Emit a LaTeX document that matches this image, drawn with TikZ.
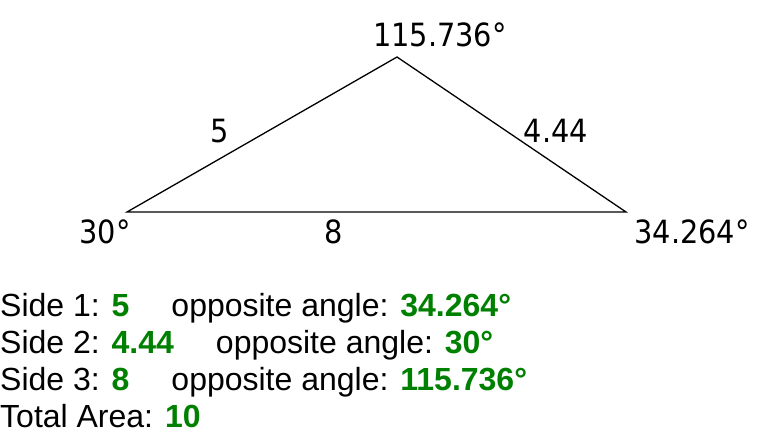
\documentclass[tikz,border=0pt]{standalone}
\usepackage{fontspec}
\setmainfont{Liberation Sans}
\newfontfamily\labelfont{DejaVu Sans Condensed}
\definecolor{valgreen}{RGB}{0,128,0}

\begin{document}
\begin{tikzpicture}[x=1pt,y=-1pt]
        \tikzstyle{corner}=[inner sep=0pt,font=\labelfont\fontsize{32}{32}\selectfont]
        \tikzstyle{info}=[anchor=base west,inner sep=0pt,font=\fontsize{32}{32}\selectfont]
        \tikzstyle{edge}=[draw,line width=1.3pt]
        \useasboundingbox (0,0) rectangle (759,434);
       \begin{scope}
         \coordinate (a) at (127,212);
         \coordinate (b) at (397,57);
         \coordinate (c) at (626,212);

         \path[edge] (a) -- (b) -- (c) -- cycle;

         \node [corner] (angb) at (440,35) {115.736°};
         \node [corner] (anga) at (105,232) {30°};
         \node [corner] (angc) at (692,232) {34.264°};
         \node [corner] (sidea) at (220,131) {5};
         \node [corner] (sideb) at (556,131) {4.44};
         \node [corner] (sidec) at (334,232) {8};
        \end{scope}
       \begin{scope}
         \node [info] (line1) at (0,316) {Side 1: \textbf{\color{valgreen}5}\hspace{42pt}opposite angle: \textbf{\color{valgreen}34.264°}};
         \node [info] (line2) at (0,353) {Side 2: \textbf{\color{valgreen}4.44}\hspace{42pt}opposite angle: \textbf{\color{valgreen}30°}};
         \node [info] (line3) at (0,390) {Side 3: \textbf{\color{valgreen}8}\hspace{42pt}opposite angle: \textbf{\color{valgreen}115.736°}};
         \node [info] (line4) at (0,427) {Total Area: \textbf{\color{valgreen}10}};
        \end{scope}
      \end{tikzpicture}
\end{document}
